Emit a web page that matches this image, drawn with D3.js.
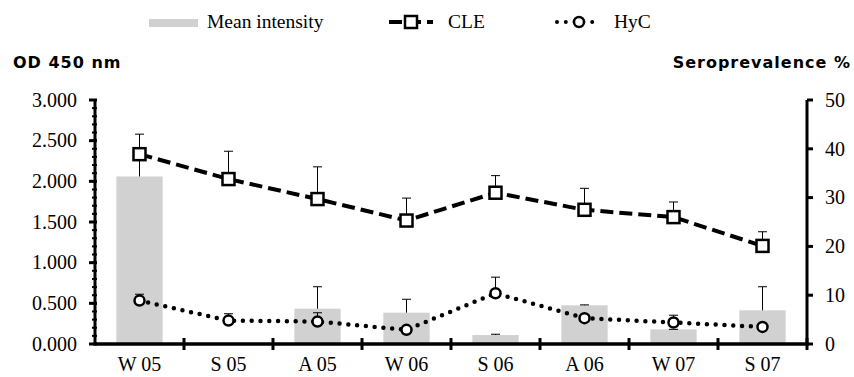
<!DOCTYPE html>
<html>
<head>
<meta charset="utf-8">
<script src="https://cdn.jsdelivr.net/npm/d3@7"></script>
<style>
  body { margin: 0; background: #fff; }
  text { fill: #000; }
  .serif { font-family: "Liberation Serif", "Times New Roman", serif; }
  .title { font-family: "DejaVu Sans", sans-serif; font-weight: bold; font-size: 16px; letter-spacing: 1px; }
</style>
</head>
<body>
<svg width="854" height="377"></svg>
<script>
// seasons on the x axis
var seasons = ["W 05", "S 05", "A 05", "W 06", "S 06", "A 06", "W 07", "S 07"];
// mean intensity (OD 450 nm), bars + upper error
var intensity = [2.06, 0, 0.434, 0.385, 0.11, 0.476, 0.18, 0.414];
var intensityErr = [0.30, 0, 0.27, 0.165, 0.01, 0.005, 0, 0.29];
// seroprevalence % (right axis)
var cle = [38.9, 33.8, 29.7, 25.3, 31.0, 27.5, 26.0, 20.1];
var cleErr = [4.1, 5.7, 6.6, 4.6, 3.5, 4.4, 3.1, 2.9];
var hyc = [8.9, 4.8, 4.6, 2.9, 10.4, 5.3, 4.4, 3.5];
var hycErr = [1.3, 1.4, 1.8, 0, 3.3, 0, 1.5, 0];
// tick values
var odTicks = [0, 0.5, 1, 1.5, 2, 2.5, 3];
var seroTicks = [0, 10, 20, 30, 40, 50];

var svg = d3.select("svg");
var plotLeft = 95, plotRight = 807, plotTop = 100, plotBottom = 344;

var x = d3.scaleBand().domain(seasons).range([plotLeft, plotRight]);
var yL = d3.scaleLinear().domain([0, 3]).range([plotBottom, plotTop]);
var yR = d3.scaleLinear().domain([0, 50]).range([plotBottom, plotTop]);
var barW = x.bandwidth() * 0.52;
function cx(i) { return x(seasons[i]) + x.bandwidth() / 2; }

// bars
svg.append("g").selectAll("rect")
  .data(intensity)
  .enter()
  .append("rect")
  .attr("x", function (d, i) { return cx(i) - barW / 2; })
  .attr("y", function (d) { return yL(d); })
  .attr("width", barW)
  .attr("height", function (d) { return yL(0) - yL(d); })
  .attr("fill", "#d0d1d0");

// error bars (up only)
function errorBars(vals, errs, scale) {
  var g = svg.append("g").attr("stroke", "#000").attr("stroke-width", 1);
  vals.forEach(function (v, i) {
    if (!errs[i] && v === 0) return;
    var x0 = cx(i), y0 = scale(v), y1 = scale(v + errs[i]);
    g.append("line").attr("x1", x0).attr("x2", x0).attr("y1", y0).attr("y2", y1);
    g.append("line").attr("x1", x0 - 4.5).attr("x2", x0 + 4.5).attr("y1", y1).attr("y2", y1);
  });
}
errorBars(intensity, intensityErr, yL);
errorBars(cle, cleErr, yR);
errorBars(hyc, hycErr, yR);

// lines
var line = d3.line()
  .x(function (d, i) { return cx(i); })
  .y(function (d) { return yR(d); });

svg.append("path")
  .attr("d", line(cle))
  .attr("fill", "none")
  .attr("stroke", "#000")
  .attr("stroke-width", 4)
  .attr("stroke-dasharray", "13,6");

svg.append("path")
  .attr("d", line(hyc))
  .attr("fill", "none")
  .attr("stroke", "#000")
  .attr("stroke-width", 4.5)
  .attr("stroke-linecap", "round")
  .attr("stroke-dasharray", "0,8.8");

// markers
svg.append("g").selectAll("rect")
  .data(cle)
  .enter()
  .append("rect")
  .attr("x", function (d, i) { return cx(i) - 6; })
  .attr("y", function (d) { return yR(d) - 6; })
  .attr("width", 12)
  .attr("height", 12)
  .attr("fill", "#fff")
  .attr("stroke", "#000")
  .attr("stroke-width", 2.5);

svg.append("g").selectAll("circle")
  .data(hyc)
  .enter()
  .append("circle")
  .attr("cx", function (d, i) { return cx(i); })
  .attr("cy", function (d) { return yR(d); })
  .attr("r", 5)
  .attr("fill", "#fff")
  .attr("stroke", "#000")
  .attr("stroke-width", 2.5);

// axes
var ax = svg.append("g").attr("stroke", "#000");
ax.append("line").attr("x1", plotLeft).attr("x2", plotLeft).attr("y1", plotTop).attr("y2", plotBottom).attr("stroke-width", 3);
ax.append("line").attr("x1", plotRight).attr("x2", plotRight).attr("y1", plotTop).attr("y2", plotBottom).attr("stroke-width", 3);
ax.append("line").attr("x1", plotLeft - 1.5).attr("x2", plotRight + 1.5).attr("y1", plotBottom).attr("y2", plotBottom).attr("stroke-width", 3.5);

// left minor ticks every 0.1
ax.selectAll(".minor")
  .data(d3.range(0, 31).map(function (d) { return d / 10; }))
  .enter()
  .append("line")
  .attr("x1", plotLeft - 3).attr("x2", plotLeft + 2)
  .attr("y1", function (d) { return yL(d); })
  .attr("y2", function (d) { return yL(d); })
  .attr("stroke-width", 2);

// left major ticks + labels
ax.selectAll(".majorL")
  .data(odTicks)
  .enter()
  .append("line")
  .attr("x1", plotLeft - 6).attr("x2", plotLeft + 2)
  .attr("y1", function (d) { return yL(d); })
  .attr("y2", function (d) { return yL(d); })
  .attr("stroke-width", 3);

svg.append("g").selectAll("text")
  .data(odTicks)
  .enter()
  .append("text")
  .attr("class", "serif")
  .attr("x", plotLeft - 18)
  .attr("y", function (d) { return yL(d); })
  .attr("dy", "0.34em")
  .attr("text-anchor", "end")
  .style("font-size", "20px")
  .text(d3.format(".3f"));

// right ticks + labels
ax.selectAll(".majorR")
  .data(seroTicks)
  .enter()
  .append("line")
  .attr("x1", plotRight).attr("x2", plotRight + 6)
  .attr("y1", function (d) { return yR(d); })
  .attr("y2", function (d) { return yR(d); })
  .attr("stroke-width", 3);

svg.append("g").selectAll("text")
  .data(seroTicks)
  .enter()
  .append("text")
  .attr("class", "serif")
  .attr("x", plotRight + 18)
  .attr("y", function (d) { return yR(d); })
  .attr("dy", "0.34em")
  .style("font-size", "20px")
  .text(function (d) { return d; });

// x ticks between categories
ax.selectAll(".xt")
  .data(seasons)
  .enter()
  .append("line")
  .attr("x1", function (d) { return x(d) + x.bandwidth(); })
  .attr("x2", function (d) { return x(d) + x.bandwidth(); })
  .attr("y1", plotBottom - 6).attr("y2", plotBottom + 6)
  .attr("stroke-width", 3);

svg.append("g").selectAll("text")
  .data(seasons)
  .enter()
  .append("text")
  .attr("class", "serif")
  .attr("x", function (d, i) { return cx(i); })
  .attr("y", 371)
  .attr("text-anchor", "middle")
  .style("font-size", "20px")
  .text(function (d) { return d; });

// axis titles
svg.append("text").attr("class", "title").attr("x", 13).attr("y", 68).text("OD 450 nm");
svg.append("text").attr("class", "title").attr("x", 851).attr("y", 68)
  .attr("text-anchor", "end").text("Seroprevalence %");

// legend
var lg = svg.append("g");
lg.append("rect").attr("x", 149).attr("y", 19).attr("width", 49).attr("height", 8).attr("fill", "#d0d1d0");
lg.append("text").attr("class", "serif").attr("x", 207).attr("y", 28).style("font-size", "19.5px").text("Mean intensity");

lg.append("line").attr("x1", 389).attr("x2", 433).attr("y1", 22).attr("y2", 22)
  .attr("stroke", "#000").attr("stroke-width", 4).attr("stroke-dasharray", "13,6");
lg.append("rect").attr("x", 405).attr("y", 16).attr("width", 12).attr("height", 12)
  .attr("fill", "#fff").attr("stroke", "#000").attr("stroke-width", 2.5);
lg.append("text").attr("class", "serif").attr("x", 448).attr("y", 28).style("font-size", "19.5px").text("CLE");

lg.append("line").attr("x1", 557).attr("x2", 601).attr("y1", 22).attr("y2", 22)
  .attr("stroke", "#000").attr("stroke-width", 4).attr("stroke-linecap", "round").attr("stroke-dasharray", "0,8.8");
lg.append("circle").attr("cx", 579).attr("cy", 22).attr("r", 5)
  .attr("fill", "#fff").attr("stroke", "#000").attr("stroke-width", 2.5);
lg.append("text").attr("class", "serif").attr("x", 614).attr("y", 28).style("font-size", "19.5px").text("HyC");
</script>
</body>
</html>
